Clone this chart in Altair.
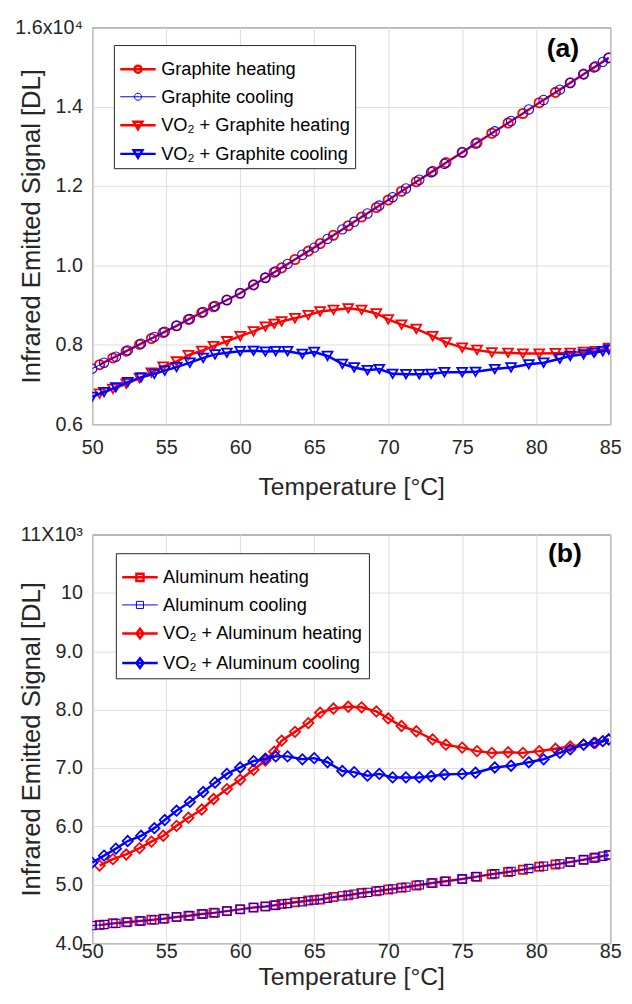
import altair as alt
import pandas as pd

# ---------------- data ----------------
T_HEAT = [50.5, 51.4, 52.3, 53.2, 54.0, 54.8, 55.7, 56.5, 57.4, 58.2, 59.1, 60.0, 60.9,
          61.7, 62.3, 62.8, 63.7, 64.6, 65.4, 66.3, 67.3, 68.2, 69.2, 70.0, 70.9, 71.9,
          73.0, 73.9, 75.0, 76.0, 77.0, 78.1, 79.1, 80.2, 81.3, 82.3, 83.2, 84.0, 84.9]
T_COOL = [50.0, 50.8, 51.6, 52.4, 53.3, 54.2, 54.9, 55.7, 56.6, 57.5, 58.3, 59.1, 60.0,
          60.9, 61.7, 62.4, 63.2, 64.2, 65.0, 65.9, 66.9, 67.7, 68.6, 69.4, 70.3, 71.2,
          72.1, 72.9, 73.8, 75.0, 75.9, 77.2, 78.3, 79.5, 80.5, 81.6, 82.3, 83.2, 83.9,
          84.5, 84.9]

# panel (a), values in units of 10^4
GRAPHITE_HEAT = [0.750, 0.767, 0.784, 0.801, 0.816, 0.831, 0.848, 0.864, 0.881, 0.896,
                 0.913, 0.930, 0.951, 0.969, 0.983, 0.994, 1.015, 1.036, 1.055, 1.076,
                 1.100, 1.122, 1.146, 1.165, 1.187, 1.211, 1.237, 1.259, 1.285, 1.309,
                 1.333, 1.359, 1.383, 1.410, 1.436, 1.460, 1.482, 1.501, 1.523]
GRAPHITE_COOL = [0.740, 0.755, 0.770, 0.786, 0.803, 0.820, 0.833, 0.848, 0.865, 0.883,
                 0.898, 0.913, 0.930, 0.951, 0.969, 0.985, 1.004, 1.027, 1.045, 1.067,
                 1.091, 1.110, 1.131, 1.151, 1.172, 1.194, 1.216, 1.235, 1.256, 1.285,
                 1.307, 1.338, 1.364, 1.393, 1.417, 1.443, 1.460, 1.482, 1.499, 1.513,
                 1.523]
VO2_GRAPHITE_HEAT = [0.677, 0.689, 0.702, 0.716, 0.730, 0.745, 0.758, 0.774, 0.785, 0.797,
                     0.809, 0.822, 0.834, 0.846, 0.853, 0.859, 0.867, 0.875, 0.884, 0.888,
                     0.892, 0.888, 0.879, 0.864, 0.851, 0.840, 0.822, 0.806, 0.793, 0.787,
                     0.781, 0.780, 0.778, 0.778, 0.779, 0.780, 0.782, 0.784, 0.792]
VO2_GRAPHITE_COOL = [0.669, 0.681, 0.693, 0.706, 0.718, 0.727, 0.735, 0.744, 0.755, 0.767,
                     0.776, 0.780, 0.784, 0.785, 0.783, 0.784, 0.784, 0.777, 0.782, 0.772,
                     0.752, 0.743, 0.736, 0.739, 0.727, 0.726, 0.726, 0.727, 0.731, 0.731,
                     0.732, 0.739, 0.743, 0.751, 0.755, 0.765, 0.772, 0.776, 0.780, 0.784,
                     0.788]

# panel (b), values in units of 10^3
AL_HEAT = [4.31, 4.34, 4.36, 4.38, 4.40, 4.42, 4.45, 4.47, 4.50, 4.52, 4.55, 4.58, 4.61,
           4.63, 4.65, 4.67, 4.70, 4.73, 4.75, 4.79, 4.82, 4.86, 4.89, 4.92, 4.95, 4.99,
           5.03, 5.06, 5.10, 5.14, 5.18, 5.22, 5.26, 5.31, 5.35, 5.39, 5.43, 5.47, 5.51]
AL_COOL = [4.30, 4.32, 4.34, 4.36, 4.38, 4.40, 4.42, 4.45, 4.47, 4.50, 4.52, 4.55, 4.58,
           4.61, 4.63, 4.65, 4.68, 4.71, 4.74, 4.77, 4.81, 4.84, 4.87, 4.90, 4.93, 4.96,
           5.00, 5.03, 5.06, 5.10, 5.14, 5.19, 5.23, 5.28, 5.32, 5.36, 5.39, 5.43, 5.46,
           5.49, 5.51]
VO2_AL_HEAT = [5.33, 5.44, 5.52, 5.63, 5.74, 5.84, 6.01, 6.15, 6.29, 6.47, 6.64, 6.80, 6.97,
               7.13, 7.28, 7.47, 7.62, 7.77, 7.95, 8.02, 8.05, 8.04, 7.97, 7.85, 7.72, 7.63,
               7.49, 7.40, 7.35, 7.29, 7.26, 7.27, 7.26, 7.29, 7.33, 7.37, 7.40, 7.43, 7.49]
VO2_AL_COOL = [5.38, 5.50, 5.62, 5.75, 5.84, 5.97, 6.11, 6.27, 6.42, 6.59, 6.75, 6.90, 7.01,
               7.12, 7.16, 7.20, 7.20, 7.15, 7.17, 7.10, 6.95, 6.93, 6.87, 6.90, 6.84, 6.84,
               6.84, 6.86, 6.89, 6.90, 6.92, 7.01, 7.04, 7.10, 7.15, 7.26, 7.32, 7.40, 7.43,
               7.46, 7.49]

SERIES_A = ["Graphite heating", "Graphite cooling",
            "VO\u2082 + Graphite heating", "VO\u2082 + Graphite cooling"]
SERIES_B = ["Aluminum heating", "Aluminum cooling",
            "VO\u2082 + Aluminum heating", "VO\u2082 + Aluminum cooling"]

X_TICKS = [50, 55, 60, 65, 70, 75, 80, 85]
Y_TICKS_A = [0.6, 0.8, 1.0, 1.2, 1.4, 1.6]
Y_TICKS_B = [4, 5, 6, 7, 8, 9, 10, 11]

# ---------------- styles ----------------
COLORS = ["#ff0000", "#0000ff", "#ff0000", "#0000ff"]
LINE_W = [2.5, 1.0, 2.5, 2.5]
MARK_W = [1.8, 1.1, 1.8, 1.8]
FONT = "Liberation Sans"
INK = "#262626"

SHAPES_A = ["circle", "circle", "triangle-down", "triangle-down"]
SHAPES_B = ["square", "square", "diamond", "diamond"]
SIZES_A = [90, 90, 100, 100]
SIZES_B = [70, 70, 110, 110]

CIRC = "M0.2,0A0.2,0.2,0,1,1,-0.2,0A0.2,0.2,0,1,1,0.2,0"
TRI = "M-0.25,-0.2L0.25,-0.2L0,0.22Z"
SQR = "M-0.2,-0.2L0.2,-0.2L0.2,0.2L-0.2,0.2Z"
DIA = "M0,-0.27L0.2,0L0,0.27L-0.2,0Z"
LINE = "M-1,0L1,0"
LEG_A = [LINE + CIRC, LINE + CIRC, LINE + TRI, LINE + TRI]
LEG_B = [LINE + SQR, LINE + SQR, LINE + DIA, LINE + DIA]


def build_panel(series, t_lists, v_lists, shapes, sizes, leg_shapes, ydomain, yticks,
                label_expr, height, tag, tag_xy, legend_xy, label_pad_x, title_pad_x):
    rows = []
    for name, ts, vs in zip(series, t_lists, v_lists):
        for t, v in zip(ts, vs):
            rows.append({"s": name, "T": t, "v": v})
    df = pd.DataFrame(rows)

    xenc = alt.X("T:Q",
                 scale=alt.Scale(domain=[50, 85], nice=False, zero=False),
                 axis=alt.Axis(values=X_TICKS, title="Temperature [\u00b0C]",
                               labelPadding=label_pad_x, titlePadding=title_pad_x,
                               labelFlush=False, format="d"))
    yenc = alt.Y("v:Q",
                 scale=alt.Scale(domain=ydomain, nice=False, zero=False),
                 axis=alt.Axis(values=yticks, labelExpr=label_expr,
                               title="Infrared Emitted Signal [DL]",
                               labelPadding=10, titlePadding=8,
                               minExtent=40, maxExtent=40, titleFontSize=26))

    layers = []
    for i, name in enumerate(series):
        base = alt.Chart(df).transform_filter(alt.datum.s == name)
        layers.append(base.mark_line(color=COLORS[i], strokeWidth=LINE_W[i], clip=True)
                      .encode(x=xenc, y=yenc))
        layers.append(base.mark_point(shape=shapes[i], filled=False, color=COLORS[i],
                                      strokeWidth=MARK_W[i], size=sizes[i], opacity=1,
                                      clip=True)
                      .encode(x=xenc, y=yenc))

    # legend driven by an off-range (clipped) dummy layer
    leg_df = pd.DataFrame({"s": series, "T": [200] * 4, "v": [ydomain[0]] * 4})
    legend = alt.Legend(orient="none", legendX=legend_xy[0], legendY=legend_xy[1],
                        title=None, strokeColor=INK, fillColor="white", padding=5,
                        labelFont=FONT, labelFontSize=18.5, labelColor="black",
                        symbolSize=1296, labelOffset=4, rowPadding=-2, labelLimit=0,
                        cornerRadius=0)
    layers.append(
        alt.Chart(leg_df).mark_point(filled=False, clip=True, opacity=1).encode(
            x=alt.X("T:Q"), y=alt.Y("v:Q"),
            color=alt.Color("s:N", scale=alt.Scale(domain=series, range=COLORS),
                            legend=legend),
            shape=alt.Shape("s:N", scale=alt.Scale(domain=series, range=leg_shapes),
                            legend=legend),
            strokeWidth=alt.StrokeWidth("s:N", scale=alt.Scale(type="ordinal", domain=series,
                                                               range=LINE_W),
                                        legend=legend),
        )
    )
    layers.append(
        alt.Chart(pd.DataFrame({"t": [tag]})).mark_text(
            font=FONT, fontSize=27, fontWeight="bold", color="black", align="center",
            baseline="middle").encode(
            x=alt.value(tag_xy[0]), y=alt.value(tag_xy[1]), text="t:N")
    )
    return alt.layer(*layers).properties(width=526, height=height)


panel_a = build_panel(
    SERIES_A, [T_HEAT, T_COOL, T_HEAT, T_COOL],
    [GRAPHITE_HEAT, GRAPHITE_COOL, VO2_GRAPHITE_HEAT, VO2_GRAPHITE_COOL],
    SHAPES_A, SIZES_A, LEG_A, [0.6, 1.6], Y_TICKS_A,
    "datum.value > 1.59 ? '1.6x10\u2074' : format(datum.value, '.1f')",
    403, "(a)", (478, 22), (22, 18), 14, 17)

panel_b = build_panel(
    SERIES_B, [T_HEAT, T_COOL, T_HEAT, T_COOL],
    [AL_HEAT, AL_COOL, VO2_AL_HEAT, VO2_AL_COOL],
    SHAPES_B, SIZES_B, LEG_B, [4, 11], Y_TICKS_B,
    "datum.value > 10.9 ? '11X10\u00b3' : (datum.value > 9.9 ? '10' : format(datum.value, '.1f'))",
    415, "(b)", (480, 20), (24, 19), -1, 3)

chart = alt.vconcat(panel_a, panel_b, spacing=24).properties(
    padding={"left": 5.5, "top": 1, "right": 2, "bottom": 0}
).configure_view(
    stroke=INK, strokeWidth=1
).configure_axis(
    labelFont=FONT, labelFontSize=20, labelColor=INK,
    titleFont=FONT, titleFontSize=25, titleColor=INK, titleFontWeight="normal",
    domain=False, ticks=False, grid=True, gridColor="#dcdcdc", gridWidth=1
).resolve_scale(
    color="independent", shape="independent", strokeWidth="independent"
)

chart.save("out.html", embed_options={"renderer": "svg", "actions": False})
